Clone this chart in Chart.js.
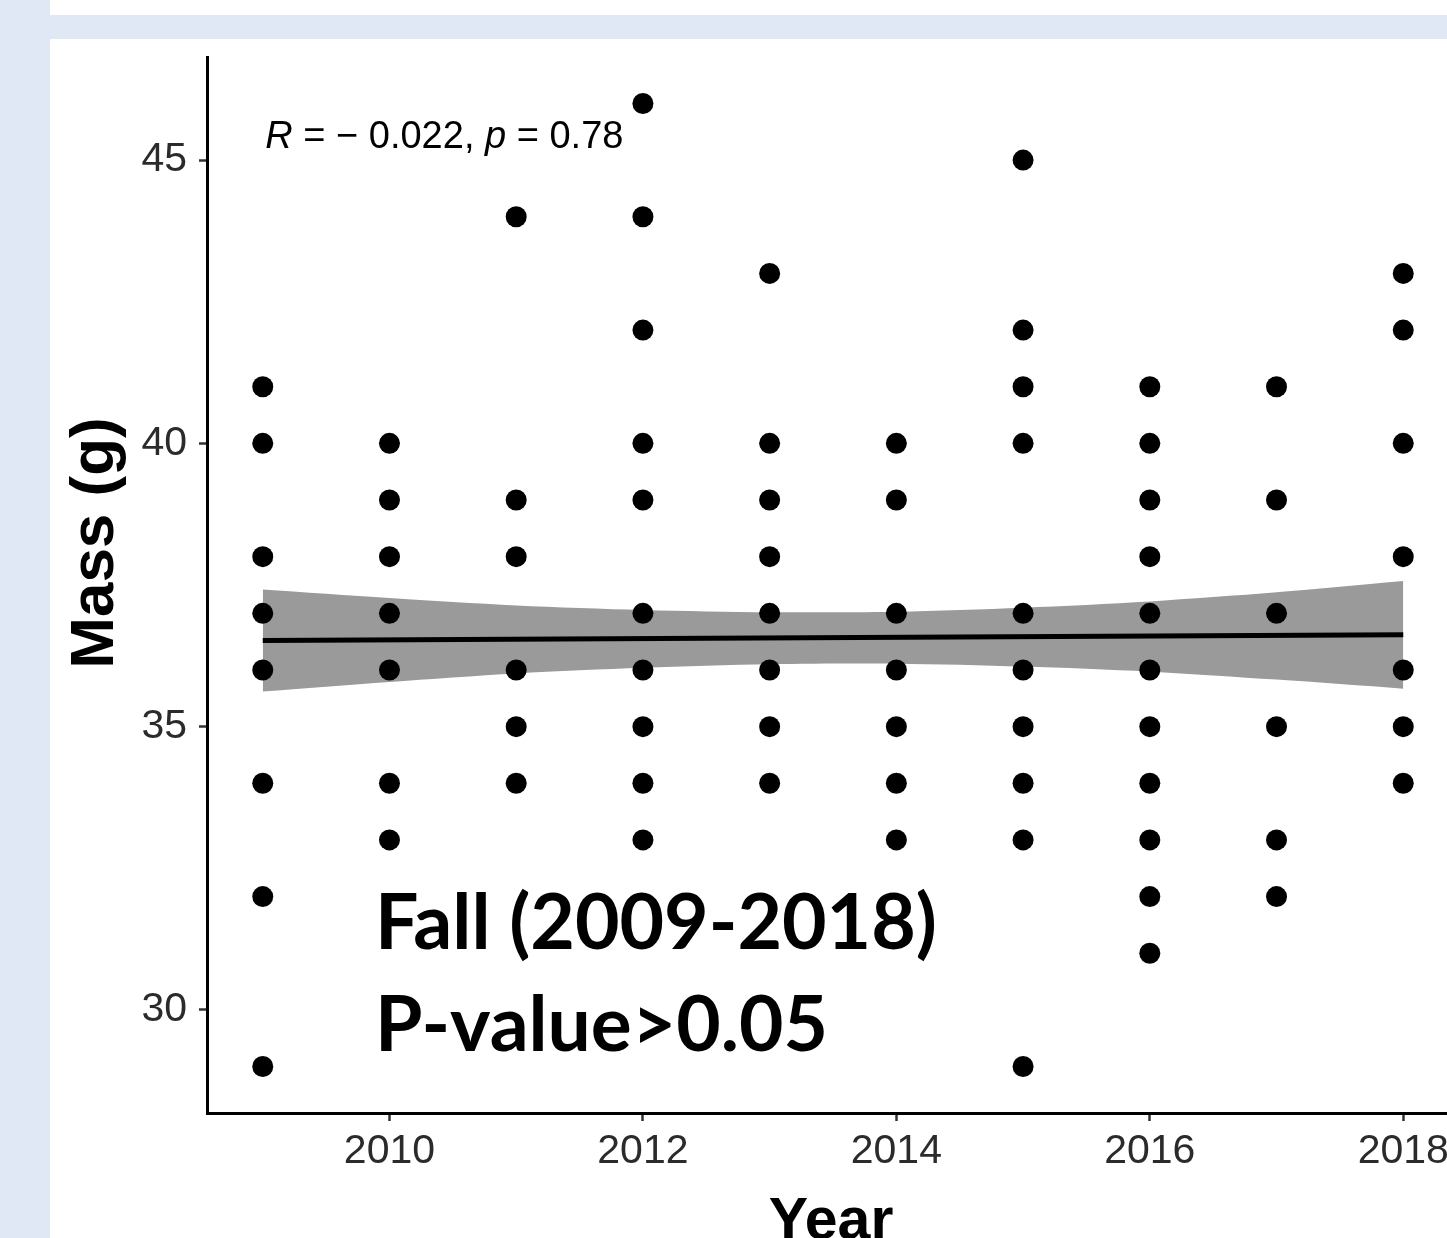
<!DOCTYPE html>
<html>
<head>
<meta charset="utf-8">
<title>Fall mass by year</title>
<script src="https://cdn.jsdelivr.net/npm/chart.js@4.4.0/dist/chart.umd.min.js"></script>
<style>
  html, body { margin: 0; padding: 0; background: #fff; overflow: hidden; width: 1447px; height: 1238px; }
  #wrap { position: absolute; left: 0; top: 0; width: 1500px; height: 1238px; }
  .franja-izq { position: absolute; left: 0; top: 0; width: 50px; height: 1238px; background: #dfe8f4; }
  .franja-sup { position: absolute; left: 50px; top: 15px; width: 1397px; height: 24px; background: #dfe8f4; }
</style>
</head>
<body>
<div id="wrap"><canvas id="grafico" width="1500" height="1238"></canvas></div>
<div class="franja-izq"></div>
<div class="franja-sup"></div>
<script>
// datos: masa (g) de cada individuo por año
const years = [2009, 2010, 2011, 2012, 2013, 2014, 2015, 2016, 2017, 2018];
const mass2009 = [41, 40, 38, 37, 36, 34, 32, 29];
const mass2010 = [40, 39, 38, 37, 36, 34, 33];
const mass2011 = [44, 39, 38, 36, 35, 34];
const mass2012 = [46, 44, 42, 40, 39, 37, 36, 35, 34, 33];
const mass2013 = [43, 40, 39, 38, 37, 36, 35, 34];
const mass2014 = [40, 39, 37, 36, 35, 34, 33];
const mass2015 = [45, 42, 41, 40, 37, 36, 35, 34, 33, 29];
const mass2016 = [41, 40, 39, 38, 37, 36, 35, 34, 33, 32, 31];
const mass2017 = [41, 39, 37, 35, 33, 32];
const mass2018 = [43, 42, 40, 38, 36, 35, 34];

// recta de regresion y banda de confianza
const fitYears = [2009, 2018];
const fitMass = [36.52, 36.62];
const bandUpper = [37.42, 37.27, 37.14, 37.06, 37.02, 37.03, 37.10, 37.21, 37.37, 37.57];
const bandLower = [35.62, 35.79, 35.94, 36.04, 36.10, 36.11, 36.06, 35.97, 35.83, 35.67];

const xTicks = [2010, 2012, 2014, 2016, 2018];
const yTicks = [30, 35, 40, 45];

const statParts = [['R', true], [' = \u2212 0.022, ', false], ['p', true], [' = 0.78', false]];
const statPos = [2009.02, 45.21];
const notaLineas = ['Fall (2009-2018)', 'P-value>0.05'];
const notaPos = [[2009.885, 31.08], [2009.885, 29.28]];

const allMass = [mass2009, mass2010, mass2011, mass2012, mass2013, mass2014, mass2015, mass2016, mass2017, mass2018];
const puntos = [];
years.forEach((yr, i) => allMass[i].forEach(m => puntos.push({ x: yr, y: m })));

const tickFont = { family: '"Liberation Sans", Arial, sans-serif', size: 41 };

// textos extra: estadistico, nota y titulos de ejes
const textosPlugin = {
  id: 'textos',
  afterDraw(chart) {
    const { ctx, scales: { x, y } } = chart;
    ctx.save();
    ctx.fillStyle = '#000';
    ctx.textAlign = 'left';
    ctx.textBaseline = 'alphabetic';

    let px = x.getPixelForValue(statPos[0]);
    const py = y.getPixelForValue(statPos[1]);
    statParts.forEach(([txt, italic]) => {
      ctx.font = (italic ? 'italic ' : '') + '38px "Liberation Sans", Arial, sans-serif';
      ctx.fillText(txt, px, py);
      px += ctx.measureText(txt).width;
    });

    ctx.font = 'bold 77px Lato, "Open Sans", sans-serif';
    ctx.fillText(notaLineas[0], x.getPixelForValue(notaPos[0][0]), y.getPixelForValue(notaPos[0][1]), 562);
    ctx.fillText(notaLineas[1], x.getPixelForValue(notaPos[1][0]), y.getPixelForValue(notaPos[1][1]), 453);

    // titulo eje x
    ctx.font = 'bold 59px "Liberation Sans", Arial, sans-serif';
    ctx.textAlign = 'center';
    ctx.fillText('Year', 831, 1239);

    // titulo eje y (girado)
    ctx.translate(113, 543);
    ctx.rotate(-Math.PI / 2);
    ctx.font = 'bold 62px "Liberation Sans", Arial, sans-serif';
    ctx.fillText('Mass (g)', 0, 0);
    ctx.restore();
  }
};

new Chart(document.getElementById('grafico'), {
  type: 'scatter',
  data: {
    datasets: [
      {
        type: 'line',
        data: years.map((yr, i) => ({ x: yr, y: bandUpper[i] })),
        borderWidth: 0,
        pointRadius: 0,
        tension: 0.3,
        fill: false,
        order: 3
      },
      {
        type: 'line',
        data: years.map((yr, i) => ({ x: yr, y: bandLower[i] })),
        borderWidth: 0,
        pointRadius: 0,
        tension: 0.3,
        fill: '-1',
        backgroundColor: '#9a9a9a',
        order: 2
      },
      {
        type: 'line',
        data: fitYears.map((yr, i) => ({ x: yr, y: fitMass[i] })),
        borderColor: '#000',
        borderWidth: 5,
        pointRadius: 0,
        fill: false,
        order: 1
      },
      {
        data: puntos,
        backgroundColor: '#000',
        borderWidth: 0,
        pointRadius: 10.5,
        order: 0
      }
    ]
  },
  options: {
    responsive: false,
    animation: false,
    layout: { padding: { top: 57, right: 41, left: 0, bottom: 0 } },
    plugins: { legend: { display: false }, tooltip: { enabled: false } },
    scales: {
      x: {
        type: 'linear',
        min: 2008.56,
        max: 2018.44,
        afterBuildTicks: (s) => { s.ticks = xTicks.map(v => ({ value: v })); },
        afterFit: (s) => { s.height = 125; },
        ticks: { font: tickFont, color: '#2b2b2b', padding: 6, maxRotation: 0, callback: v => String(v) },
        grid: { drawOnChartArea: false, drawTicks: true, tickLength: 8, tickColor: '#333', tickWidth: 2.5 },
        border: { color: '#000', width: 3 }
      },
      y: {
        min: 28.18,
        max: 46.82,
        afterBuildTicks: (s) => { s.ticks = yTicks.map(v => ({ value: v })); },
        afterFit: (s) => { s.width = 207; },
        ticks: { font: tickFont, color: '#2b2b2b', padding: 12, callback: v => String(v) },
        grid: { drawOnChartArea: false, drawTicks: true, tickLength: 8, tickColor: '#333', tickWidth: 2.5 },
        border: { color: '#000', width: 3 }
      }
    }
  },
  plugins: [textosPlugin]
});
</script>
</body>
</html>
